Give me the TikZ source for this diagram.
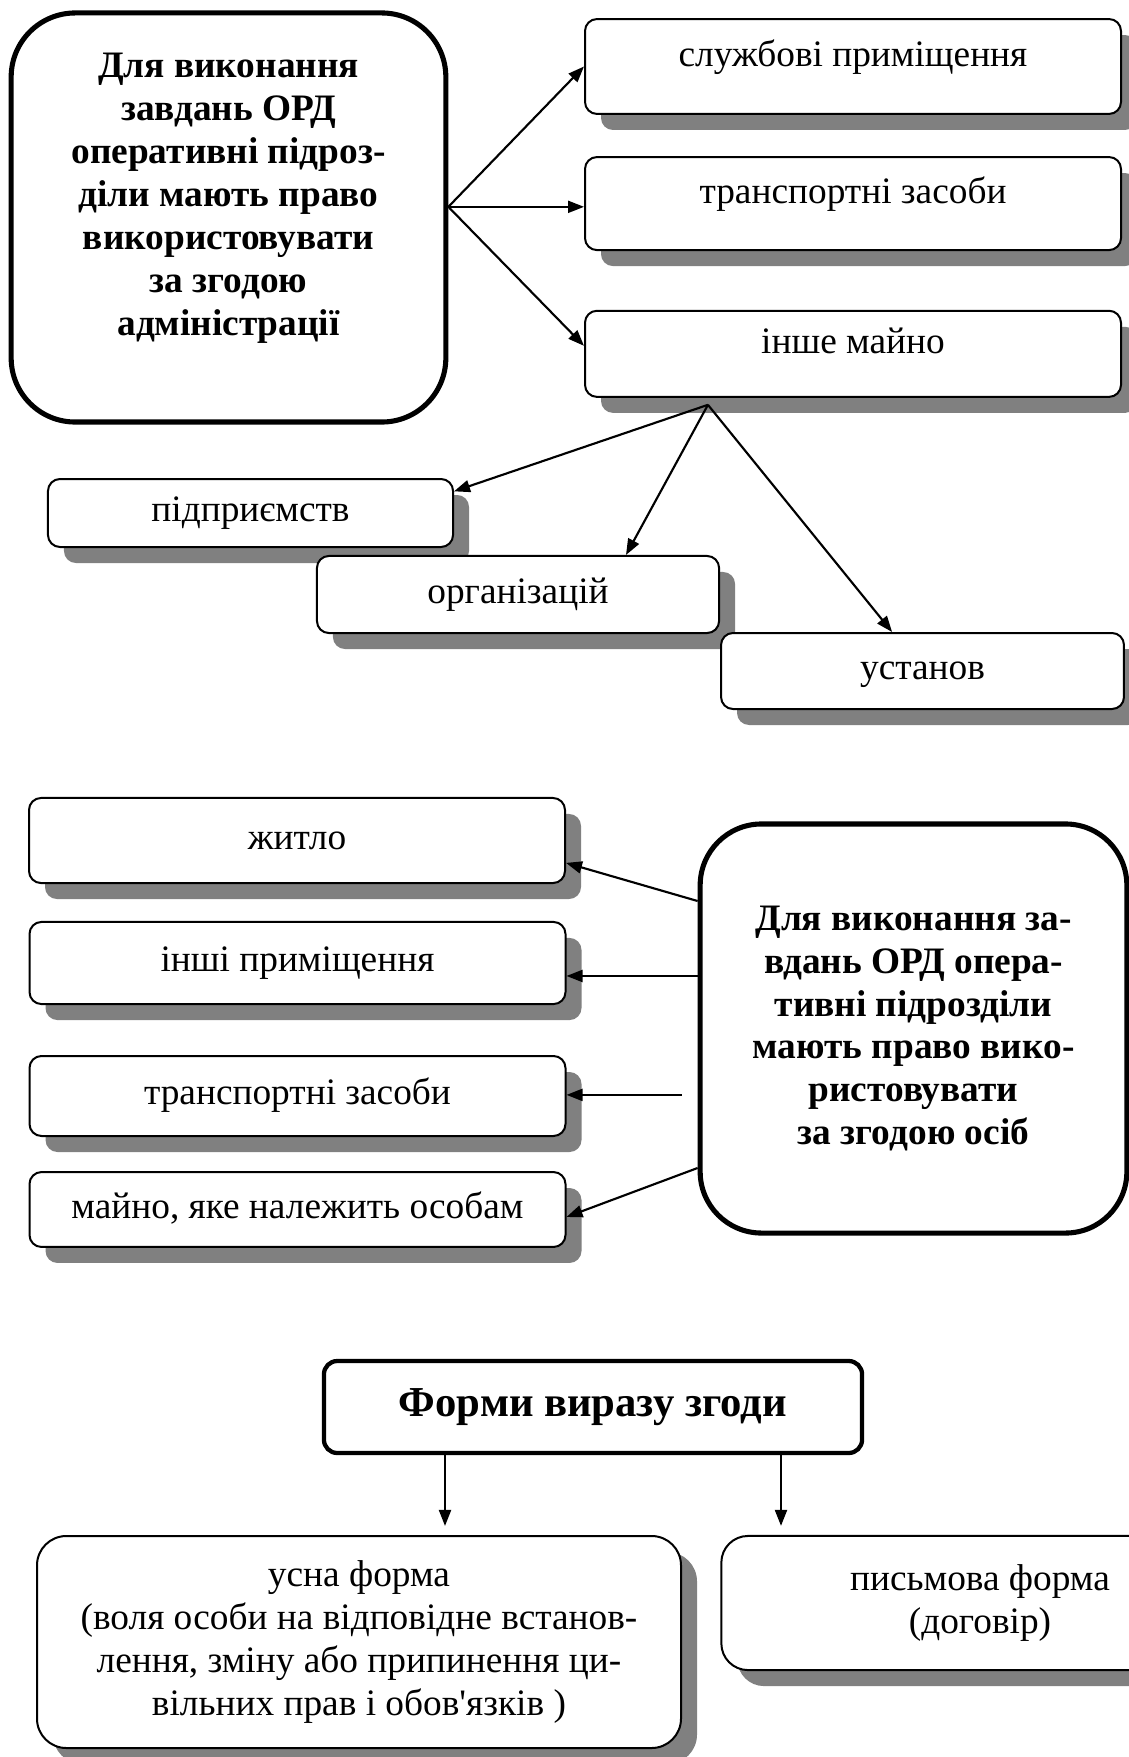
\documentclass[tikz,border=0pt]{standalone}
\usepackage{fontspec}
\setmainfont{Liberation Serif}
\usetikzlibrary{arrows.meta,positioning,shadows}

\begin{document}
\begin{tikzpicture}[
  x=0.375pt, y=-0.375pt,
  font=\fontsize{14}{16.1}\selectfont,
  bigbox/.style={
    draw,
    line width=1.9pt,
    rounded corners=24pt,
    fill=white,
    align=center,
    font=\fontsize{14}{16.1}\selectfont\bfseries
  },
  cell/.style={
    draw,
    line width=0.75pt,
    rounded corners=4.5pt,
    fill=white,
    inner ysep=0pt,
    minimum width=201pt,
    text height=10pt,
    text depth=3.5pt,
    drop shadow={shadow xshift=6pt,shadow yshift=-6pt,fill=black!50,opacity=1}
  },
  topcell/.style={cell,text depth=10pt},
  formbox/.style={
    draw,
    line width=0.75pt,
    rounded corners=11pt,
    fill=white,
    align=center,
    drop shadow={shadow xshift=6pt,shadow yshift=-6pt,fill=black!50,opacity=1}
  },
  titlebox/.style={
    draw,
    line width=1.6pt,
    rounded corners=5pt,
    fill=white,
    font=\fontsize{16}{18.4}\selectfont\bfseries
  },
  arrow/.style={-{Triangle[length=6pt,width=4.5pt]},line width=0.8pt}
]
\useasboundingbox (0,0) rectangle (1128,1757);

\node[bigbox,minimum width=163pt,minimum height=153.4pt] (adm) at (228.5,217.5) {Для виконання\\завдань ОРД\\оперативні підроз-\\діли мають право\\використовувати\\за згодою\\адміністрації\rule[-17.6pt]{0pt}{17.6pt}};
\node[topcell,minimum height=35.6pt] (sluzh) at (853,66.5) {службові приміщення};
\node[topcell,minimum height=34.9pt,below=15.4pt of sluzh] (transpa) {транспортні засоби};
\node[topcell,minimum height=32.3pt,below=22pt of transpa] (inshe) {інше майно};

\node[cell,minimum width=151.9pt,minimum height=25.5pt] (pidpr) at (250.5,513) {підприємств};
\node[cell,minimum width=150.8pt,minimum height=28.9pt] (org) at (518,594.5) {організацій};
\node[cell,minimum width=151.1pt,minimum height=28.5pt] (ustan) at (922.5,671) {установ};

\coordinate (admout) at ([yshift=4pt]adm.east);
\draw[arrow] (admout) -- (sluzh.west);
\draw[arrow] (admout) -- (admout -| transpa.west);
\draw[arrow] (admout) -- ([yshift=3pt]inshe.west);

\coordinate (split) at ([xshift=-54.4pt,yshift=-2.6pt]inshe.south);
\draw[arrow] (split) -- ([yshift=-5pt]pidpr.north east);
\draw[arrow] (split) -- ([xshift=40.5pt]org.north);
\draw[arrow] (split) -- ([xshift=-11.4pt]ustan.north);

\node[bigbox,rounded corners=23pt,minimum width=160pt,minimum height=153.4pt] (osib) at (913.5,1028.5) {Для виконання за-\\вдань ОРД опера-\\тивні підрозділи\\мають право вико-\\ристовувати\\за згодою осіб};
\node[cell,minimum height=31.9pt] (zhytlo) at (297,840.5) {житло};
\node[cell,minimum height=30.8pt] (inshi) at (297.5,963) {інші приміщення};
\node[cell,minimum height=30pt] (transpb) at (297.5,1096) {транспортні засоби};
\node[cell,minimum height=28.1pt] (maino) at (297.5,1209.5) {майно, яке належить особам};

\draw[arrow] ([yshift=47.8pt]osib.west) -- ([yshift=-8.4pt]zhytlo.east);
\draw[arrow] ([yshift=19.7pt]osib.west) -- ([yshift=19.7pt]osib.west -| inshi.east);
\draw[arrow,shorten <=6pt] ([yshift=-24.9pt]osib.west) -- ([yshift=-24.9pt]osib.west -| transpb.east);
\draw[arrow] ([yshift=-52.3pt]osib.west) -- ([yshift=-2.8pt]maino.east);

\node[titlebox,minimum width=201.8pt,minimum height=34.5pt] (formy) at (593,1407) {Форми виразу згоди};
\node[formbox,minimum width=241.5pt,minimum height=79.5pt] (usna) at (359,1642) {усна форма\\(воля особи на відповідне встанов-\\лення, зміну або припинення ци-\\вільних прав і обов\textquotesingle язків )};
\node[formbox,rounded corners=10pt,minimum width=194pt,minimum height=50.3pt] (pysm) at (980,1603) {письмова форма\\(договір)};

\draw[arrow,shorten >=3.4pt] ([xshift=-55.5pt]formy.south) -- ([xshift=-55.5pt]formy.south |- usna.north);
\draw[arrow,shorten >=3.4pt] ([xshift=70.5pt]formy.south) -- ([xshift=70.5pt]formy.south |- pysm.north);
\end{tikzpicture}
\end{document}
